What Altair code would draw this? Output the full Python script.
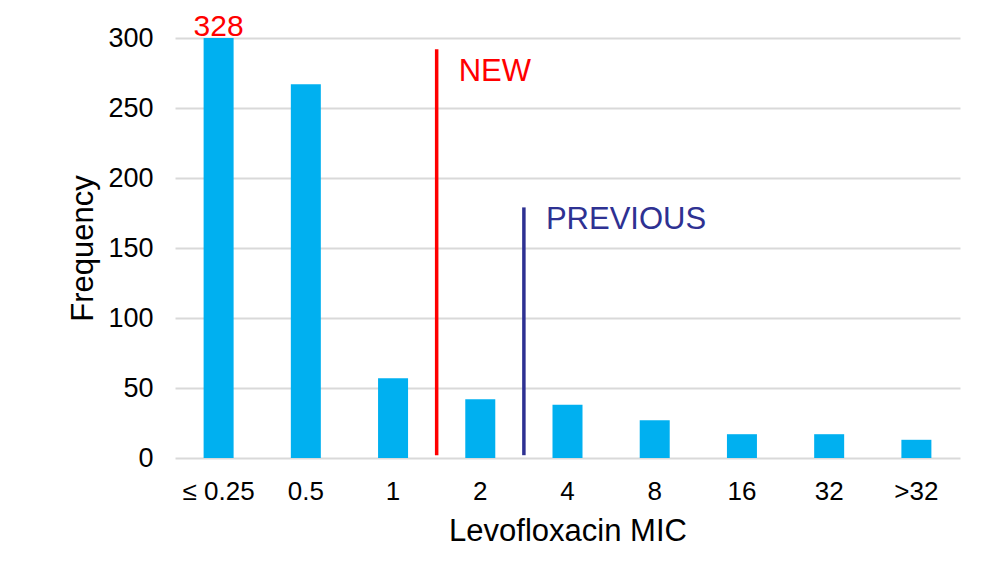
import altair as alt
import pandas as pd

# ---- data ----
categories = ["≤ 0.25", "0.5", "1", "2", "4", "8", "16", "32", ">32"]
frequency = [328, 267, 57, 42, 38, 27, 17, 17, 13]

# breakpoint markers (placed at the right edge of the category band)
bp_category = ["1", "2"]
bp_label = ["NEW", "PREVIOUS"]
bp_top = [292, 179]
bp_bottom = [2, 2]
bp_label_y = [276, 170]
bp_color = ["#FF0000", "#2E3192"]

FONT = "Liberation Sans"

bars_df = pd.DataFrame({"mic": categories, "freq": frequency})
bp_df = pd.DataFrame({
    "mic": bp_category,
    "label": bp_label,
    "top": bp_top,
    "bottom": bp_bottom,
    "ly": bp_label_y,
    "color": bp_color,
})
peak_df = bars_df.iloc[[0]].copy()
peak_df["txt"] = peak_df["freq"].astype(str)

xscale = alt.Scale(domain=categories, paddingInner=0, paddingOuter=0)
yscale = alt.Scale(domain=[0, 300], clamp=True, nice=False)

x_axis = alt.Axis(
    title="Levofloxacin MIC", labelAngle=0, labelFontSize=26, labelFont=FONT,
    labelColor="#000000", titleFontSize=31, titleFont=FONT, titleFontWeight="normal",
    titleColor="#000000", domain=False, ticks=False, labelPadding=20, titlePadding=12,
)
y_axis = alt.Axis(
    title="Frequency", values=[0, 50, 100, 150, 200, 250, 300], labelFontSize=27,
    labelFont=FONT, labelColor="#000000", titleFontSize=31, titleFont=FONT,
    titleFontWeight="normal", titleColor="#000000", domain=False, ticks=False,
    labelPadding=22, titlePadding=8, grid=True, gridColor="#D9D9D9", gridWidth=2,
)

bars = alt.Chart(bars_df).mark_bar(color="#00B0F0", size=30).encode(
    x=alt.X("mic:N", sort=categories, scale=xscale, axis=x_axis),
    y=alt.Y("freq:Q", scale=yscale, axis=y_axis),
)

peak = alt.Chart(peak_df).mark_text(
    color="#FF0000", fontSize=30, font=FONT, baseline="alphabetic", dy=-2
).encode(
    x=alt.X("mic:N", sort=categories),
    y=alt.Y("freq:Q"),
    text="txt:N",
)

rules = alt.Chart(bp_df).mark_rule(strokeWidth=3.5).encode(
    x=alt.X("mic:N", sort=categories, bandPosition=1),
    y=alt.Y("top:Q"),
    y2="bottom:Q",
    color=alt.Color("color:N", scale=None),
)

labels = alt.Chart(bp_df).mark_text(
    fontSize=31, font=FONT, align="left", baseline="middle", dx=22
).encode(
    x=alt.X("mic:N", sort=categories, bandPosition=1),
    y=alt.Y("ly:Q"),
    text="label:N",
    color=alt.Color("color:N", scale=None),
)

chart = alt.layer(bars, rules, labels, peak).properties(
    width=785,
    height=420,
    autosize=alt.AutoSizeParams(type="none"),
    padding={"left": 167, "top": 30, "right": 37, "bottom": 111},
    background="#FFFFFF",
).configure_view(stroke=None)

chart.save("out.html", embed_options={"renderer": "svg", "actions": False})
